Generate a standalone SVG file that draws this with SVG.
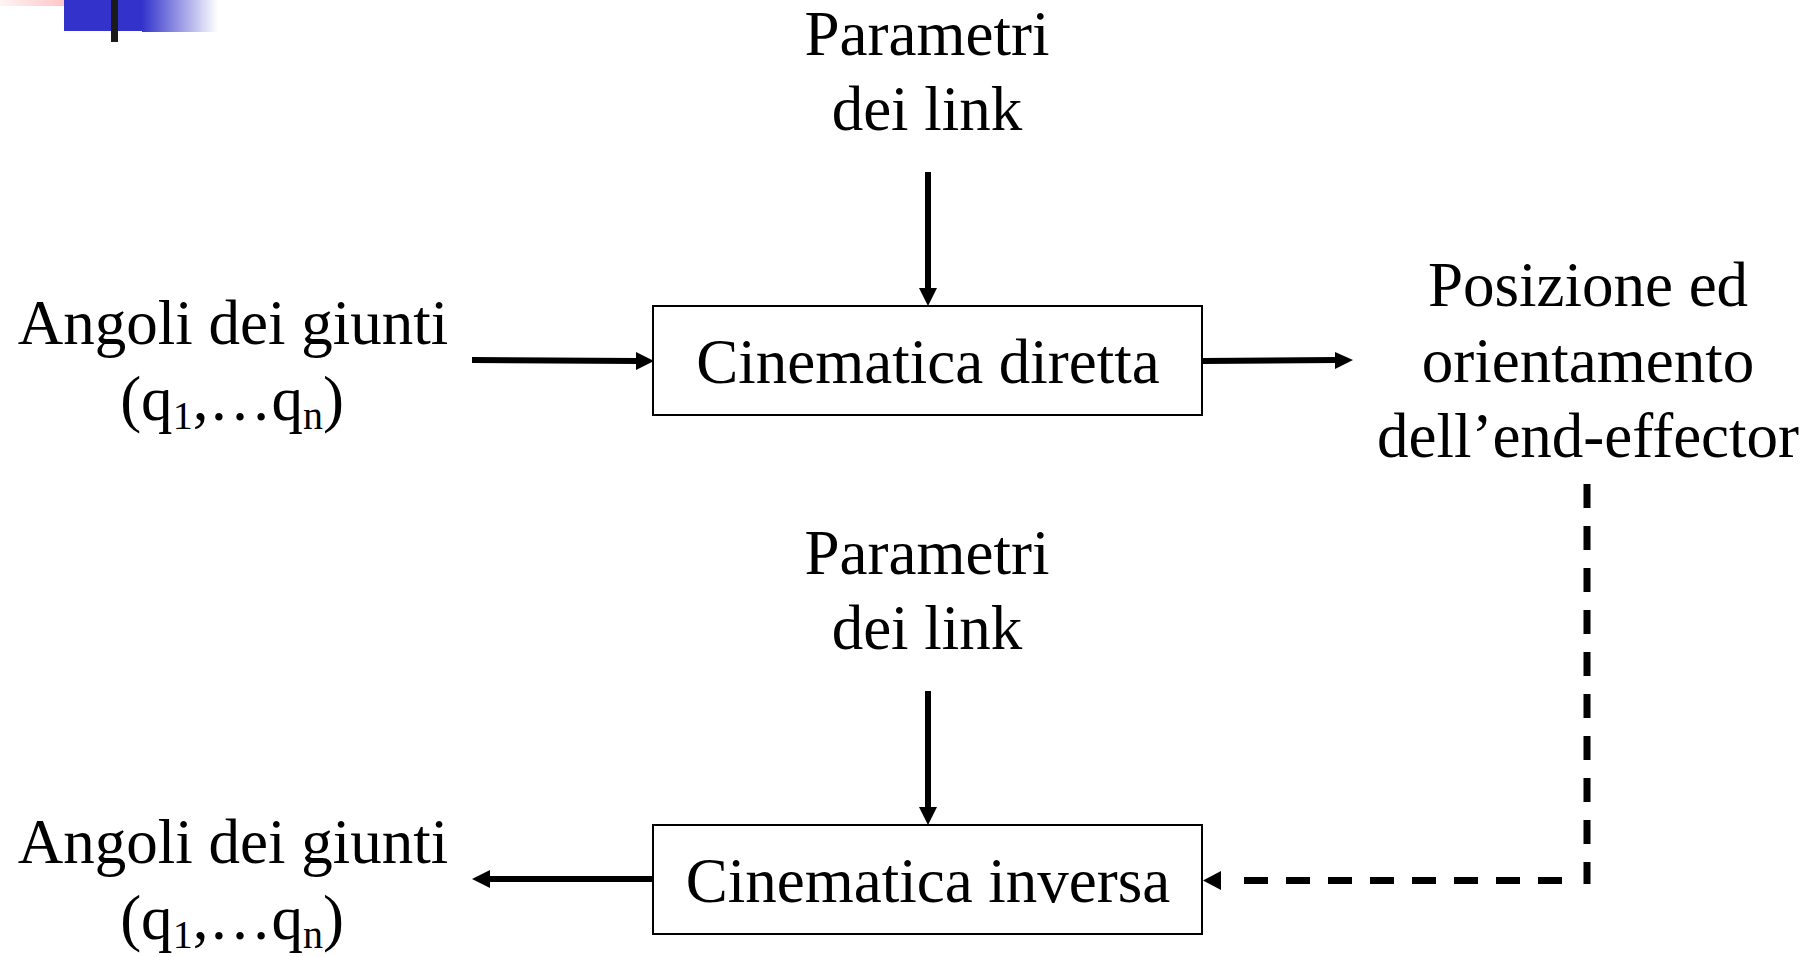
<svg xmlns="http://www.w3.org/2000/svg" width="1818" height="957" viewBox="0 0 1818 957">
<defs>
<linearGradient id="pinkG" x1="0" y1="0" x2="1" y2="0">
<stop offset="0" stop-color="#fff4f4"/>
<stop offset="1" stop-color="#ffb0b0"/>
</linearGradient>
<linearGradient id="blueG" x1="0" y1="0" x2="1" y2="0">
<stop offset="0" stop-color="#3333cc"/>
<stop offset="1" stop-color="#ffffff"/>
</linearGradient>
<style>
.t{font-family:"Liberation Serif","Times New Roman",serif;font-size:63px;fill:#000;text-anchor:middle}
.box{fill:#fff;stroke:#000;stroke-width:2}
.ln{stroke:#000;stroke-width:6;fill:none}
.head{fill:#000}
.dash{stroke:#000;stroke-width:7;fill:none;stroke-dasharray:24 18}
</style>
</defs>
<rect width="1818" height="957" fill="#fff"/>
<g id="decoration">
<rect x="0" y="0" width="96" height="6" fill="url(#pinkG)"/>
<rect x="64" y="0" width="78" height="31" fill="#3333cc"/>
<rect x="142" y="0" width="76" height="32" fill="url(#blueG)"/>
<rect x="111" y="0" width="7" height="42" fill="#1a1a1a"/>
</g>
<g id="connectors">
<line class="ln" x1="928" y1="172" x2="928" y2="290"/>
<polygon class="head" points="919,288 937,288 928,306"/>
<line class="ln" x1="472" y1="360" x2="638" y2="361"/>
<polygon class="head" points="636,352 636,370 654,361"/>
<line class="ln" x1="1202" y1="361" x2="1337" y2="360"/>
<polygon class="head" points="1335,352 1335,369 1353,360"/>
<line class="ln" x1="928" y1="691" x2="928" y2="809"/>
<polygon class="head" points="919,807 937,807 928,825"/>
<line class="ln" x1="653" y1="879" x2="488" y2="879"/>
<polygon class="head" points="490,870 490,888 472,879"/>
<path class="dash" d="M1587,484 V884"/>
<path class="dash" d="M1562,880.5 H1226"/>
<polygon class="head" points="1221,871 1221,890 1203,880.5"/>
</g>
<g id="params1">
<text class="t" x="927" y="55">Parametri</text>
<text class="t" x="927" y="130">dei link</text>
</g>
<g id="angles1">
<text class="t" x="233" y="344">Angoli dei giunti</text>
<text class="t" x="232" y="420">(q<tspan font-size="40" dy="9">1</tspan><tspan dy="-9">,…q</tspan><tspan font-size="40" dy="9">n</tspan><tspan dy="-9">)</tspan></text>
</g>
<g id="direct">
<rect class="box" x="653" y="306" width="549" height="109"/>
<text class="t" x="928" y="383">Cinematica diretta</text>
</g>
<g id="pose">
<text class="t" x="1588" y="306">Posizione ed</text>
<text class="t" x="1588" y="382">orientamento</text>
<text class="t" x="1588" y="457">dell’end-effector</text>
</g>
<g id="params2">
<text class="t" x="927" y="574">Parametri</text>
<text class="t" x="927" y="649">dei link</text>
</g>
<g id="angles2">
<text class="t" x="233" y="863">Angoli dei giunti</text>
<text class="t" x="232" y="939">(q<tspan font-size="40" dy="9">1</tspan><tspan dy="-9">,…q</tspan><tspan font-size="40" dy="9">n</tspan><tspan dy="-9">)</tspan></text>
</g>
<g id="inverse">
<rect class="box" x="653" y="825" width="549" height="109"/>
<text class="t" x="928" y="902">Cinematica inversa</text>
</g>
</svg>
